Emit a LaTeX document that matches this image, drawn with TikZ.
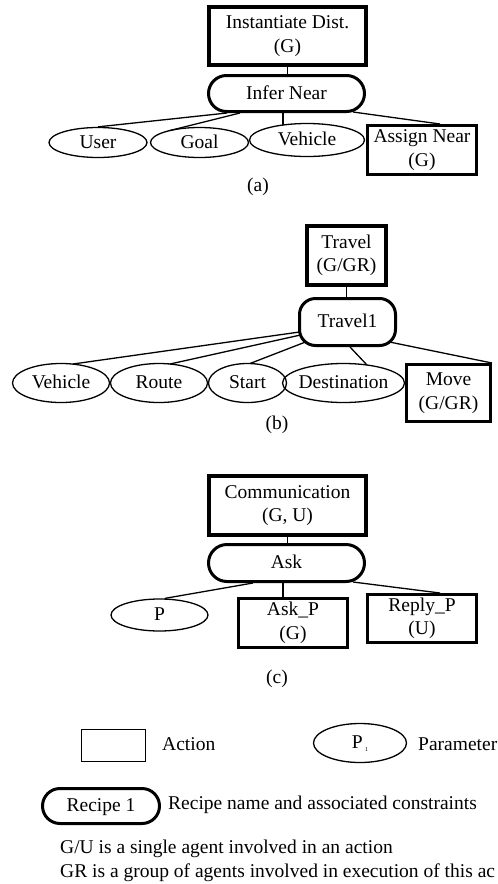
\documentclass[tikz,border=0pt]{standalone}
\usepackage{fontspec}
\setmainfont{Liberation Serif}
\usetikzlibrary{shapes.geometric}
\begin{document}
\begin{tikzpicture}[x=1pt,y=-1pt,
  every node/.style={font=\fontsize{19.5}{23.5}\selectfont, inner sep=0pt, align=center},
  actbox/.style={draw, rectangle, line width=4pt},
  subact/.style={draw, rectangle, line width=3pt},
  recipebox/.style={draw, rectangle, line width=3pt, text height=13.5pt, text depth=2.5pt},
  param/.style={draw, ellipse, line width=1.3pt, text height=13.5pt, text depth=2.5pt},
  link/.style={line width=1.3pt},
  keytext/.style={anchor=base west}
]
\useasboundingbox (0,0) rectangle (498,884);

% ---------------- (a) Instantiate distance ----------------
\node[actbox, minimum width=157pt, minimum height=58pt] (inst) at (287.5,36) {Instantiate Dist.\\(G)};
\node[recipebox, rounded corners=18pt, minimum width=156pt, minimum height=36pt] (infer) at (286.5,93.5) {Infer Near};
\node[param, minimum width=98pt, minimum height=30pt] (user) at (98,142.5) {User};
\node[param, minimum width=98pt, minimum height=30pt] (goal) at (199.5,142.5) {Goal};
\node[param, minimum width=115pt, minimum height=33pt] (vehA) at (307,140) {Vehicle};
\node[subact, minimum width=109pt, minimum height=49pt] (assign) at (422,150) {Assign Near\\(G)};
\node (capa) at (258,187) {(a)};

\draw[link] (inst.south) -- (inst.south |- infer.north);
\draw[link] ([shift={(-59.5,0)}]infer.south) -- (user.north);
\draw[link] ([shift={(-46.5,0)}]infer.south) -- ([shift={(-29.5,-12)}]goal.center);
\draw[link] ([shift={(-3.5,0)}]infer.south) -- ([shift={(-24,-15)}]vehA.center);
\draw[link] ([shift={(66.5,-1)}]infer.south) -- ([shift={(18,0)}]assign.north);

% ---------------- (b) Travel ----------------
\node[actbox, minimum width=79pt, minimum height=59pt] (travel) at (346.5,255.5) {Travel\\(G/GR)};
\node[recipebox, rounded corners=16pt, minimum width=96pt, minimum height=47pt] (travelone) at (347.5,322) {Travel1};
\node[param, minimum width=97pt, minimum height=39pt] (vehB) at (61,383) {Vehicle};
\node[param, minimum width=97pt, minimum height=39pt] (route) at (159,383) {Route};
\node[param, minimum width=78pt, minimum height=39pt] (start) at (247.5,383) {Start};
\node[param, minimum width=122pt, minimum height=39pt, inner xsep=-2pt] (dest) at (343.5,383) {Destination};
\node[subact, minimum width=84pt, minimum height=57pt] (move) at (448.5,393) {Move\\(G/GR)};
\node (capb) at (277,425) {(b)};

\draw[link] (travel.south) -- (travel.south |- travelone.north);
\draw[link] ([shift={(-48,10)}]travelone.center) -- ([shift={(12,-19)}]vehB.center);
\draw[link] ([shift={(-47,13)}]travelone.center) -- ([shift={(11,-19)}]route.center);
\draw[link] ([shift={(-42,20)}]travelone.center) -- ([shift={(2.5,-19.5)}]start.center);
\draw[link] ([shift={(2.5,0)}]travelone.south) -- ([shift={(23.5,-18)}]dest.center);
\draw[link] ([shift={(42,20)}]travelone.center) -- (move.north east);

% ---------------- (c) Communication ----------------
\node[actbox, minimum width=157pt, minimum height=59pt] (comm) at (287.5,505.5) {Communication\\(G, U)};
\node[recipebox, rounded corners=18.5pt, minimum width=156pt, minimum height=37pt] (ask) at (286.5,563) {Ask};
\node[param, minimum width=97pt, minimum height=32pt] (par) at (159.5,615) {P};
\node[subact, minimum width=109pt, minimum height=49pt] (askp) at (293,623) {Ask\_P\\(G)};
\node[subact, minimum width=109pt, minimum height=48pt] (replyp) at (422,618.5) {Reply\_P\\(U)};
\node (capc) at (277,679) {(c)};

\draw[link] (comm.south) -- (comm.south |- ask.north);
\draw[link] ([shift={(-33.5,0)}]ask.south) -- ([shift={(5.5,0)}]par.north);
\draw[link] ([shift={(-3.5,0)}]ask.south) -- ([shift={(-10,0)}]askp.north);
\draw[link] ([shift={(66.5,-1)}]ask.south) -- ([shift={(18,0)}]replyp.north);

% ---------------- key ----------------
\node[draw, rectangle, line width=1.5pt, minimum width=64pt, minimum height=32pt] (actkey) at (113.5,745.5) {};
\node[keytext] (actlbl) at (162,750) {Action};
\node[param, minimum width=93pt, minimum height=39pt] (parkey) at (360,743) {P\hspace{2.5pt}\raisebox{-3pt}{\fontsize{6}{6}\selectfont 1}};
\node[keytext] (parlbl) at (418,750) {Parameter};
\node[recipebox, rounded corners=17.5pt, minimum width=117pt, minimum height=35pt] (reckey) at (101,806) {Recipe 1};
\node[keytext] (reclbl) at (168,809) {Recipe name and associated constraints};
\node[keytext] (noteone) at (60,853) {G/U is a single agent involved in an action};
\node[keytext] (notetwo) at (60,877) {GR is a group of agents involved in execution of this ac};
\end{tikzpicture}
\end{document}
